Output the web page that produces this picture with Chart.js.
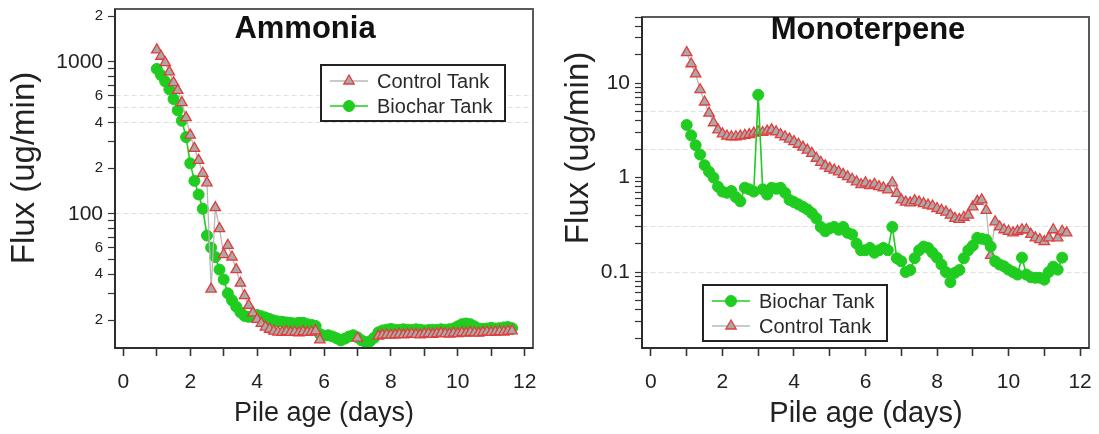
<!DOCTYPE html>
<html><head><meta charset="utf-8">
<script src="https://cdn.jsdelivr.net/npm/chart.js@4"></script>
<style>
html,body{margin:0;padding:0;background:#fff;}
#wrap{position:relative;width:1099px;height:434px;background:#fff;}
.box{position:absolute;top:0;height:434px;}
</style></head><body>
<div id="wrap">
<div class="box" style="left:0;width:560px"><canvas id="c1" width="560" height="434"></canvas></div>
<div class="box" style="left:560px;width:539px"><canvas id="c2" width="539" height="434"></canvas></div>
</div>
<script>
// ---------- DATA ----------
const days = [
 1, 1.125, 1.25, 1.375, 1.5, 1.625, 1.75, 1.875,
 2, 2.125, 2.25, 2.375, 2.5, 2.625, 2.75, 2.875,
 3, 3.125, 3.25, 3.375, 3.5, 3.625, 3.75, 3.875,
 4, 4.125, 4.25, 4.375, 4.5, 4.625, 4.75, 4.875,
 5, 5.125, 5.25, 5.375, 5.5, 5.625, 5.75, 5.875,
 6, 6.125, 6.25, 6.375, 6.5, 6.625, 6.75, 6.875,
 7, 7.125, 7.25, 7.375, 7.5, 7.625, 7.75, 7.875,
 8, 8.125, 8.25, 8.375, 8.5, 8.625, 8.75, 8.875,
 9, 9.125, 9.25, 9.375, 9.5, 9.625, 9.75, 9.875,
 10, 10.125, 10.25, 10.375, 10.5, 10.625, 10.75, 10.875,
 11, 11.125, 11.25, 11.375, 11.5, 11.625
];
const ammoniaControl = [
 1200, 1090, 990, 860, 730, 650, 540, 430,
 330, 270, 225, 185, 160, 32, 110, 80,
 54, 62, 52, 43, 35, 29, 25, 22.3,
 20.2, 19, 18, 17.4, 16.9, 16.7, 16.6, 16.8,
 16.6, 16.7, 16.5, 16.8, 16.6, 16.7, 17.0, 14.8,
 null, null, null, null, null, null, null, null,
 15.2, null, null, null, null, 15.7, 15.9, 16.0,
 15.9, 16.0, 16.1, 16.0, 16.1, 16.2, 16.1, 16.0,
 16.2, 16.3, 16.1, 16.3, 16.4, 16.3, 16.2, 16.4,
 16.3, 16.5, 16.4, 16.6, 16.5, 16.4, 16.6, 16.7,
 16.6, 16.7, 16.8, 16.7, 16.9, 17.0
];
const ammoniaBiochar = [
 900, 820, 745, 660, 570, 480, 410, 320,
 215, 165, 134, 108, 72, 60, 52, 43,
 37, 30, 27, 24.5, 22.5, 21.3, 21, 21.2,
 21.6, 21.2, 20.8, 20.3, 19.9, 19.6, 19.5, 19.3,
 19.2, 19, 19.2, 19.2, 18.8, 18.6, 18.3, 16.2,
 15.8, 15.9, 15.6, 15.2, 14.7, 15.1, 15.6, 15.9,
 15.4, 14.7, 14.3, 14.5, 15.3, 16.6, 17.1, 17.3,
 17.5, 17.3, 17.2, 17.4, 17.3, 17.2, 17.4, 17.3,
 17.1, 17.2, 17.3, 17.2, 17.4, 17.3, 17.4, 17.6,
 18.2, 18.8, 19.0, 18.8, 18.2, 17.6, 17.5, 17.6,
 17.8, 17.6, 17.7, 17.9, 18.0, 17.7
];
const monoControl = [
 21, 16, 12.5, 8.5, 6.3, 4.8, 3.8, 3.2,
 2.9, 2.75, 2.7, 2.7, 2.75, 2.8, 2.85, 2.95,
 3.05, 3.0, 3.1, 3.2, 3.05, 2.85, 2.7, 2.55,
 2.4, 2.25, 2.1, 1.95, 1.8, 1.6, 1.45, 1.33,
 1.25, 1.2, 1.15, 1.08, 1.02, 0.96, 0.9, 0.84,
 0.88, 0.82, 0.85, 0.8, 0.78, 0.74, 0.88, 0.68,
 0.58, 0.55, 0.54, 0.57, 0.55, 0.53, 0.51, 0.5,
 0.47, 0.45, 0.43, 0.4, 0.37, 0.36, 0.38, 0.4,
 0.49, 0.56, 0.58, 0.45, 0.15, 0.34, 0.3, 0.28,
 0.27, 0.26, 0.27, 0.28, 0.28, 0.25, 0.23, 0.22,
 0.21, 0.23, 0.28, 0.23, 0.27, 0.26
];
const monoBiochar = [
 3.6, 2.8, 2.2, 1.75, 1.35, 1.15, 1.0, 0.8,
 0.71, 0.69, 0.72, 0.62, 0.56, 0.78, 0.75, 0.71,
 7.5, 0.75, 0.66, 0.78, 0.76, 0.78, 0.69, 0.58,
 0.55, 0.52, 0.49, 0.46, 0.42, 0.37, 0.3, 0.27,
 0.29, 0.3, 0.28, 0.3, 0.26, 0.25, 0.2, 0.17,
 0.17, 0.18, 0.16, 0.17, 0.18, 0.17, 0.3, 0.14,
 0.13, 0.1, 0.105, 0.14, 0.17, 0.186, 0.18, 0.16,
 0.142, 0.12, 0.1, 0.078, 0.098, 0.105, 0.14, 0.17,
 0.19, 0.23, 0.225, 0.22, 0.186, 0.13, 0.12, 0.115,
 0.106, 0.1, 0.094, 0.142, 0.094, 0.088, 0.087, 0.087,
 0.083, 0.1, 0.114, 0.106, 0.142, null
];
const xTickValues = [0, 2, 4, 6, 8, 10, 12];
const xTickLabels = ['0', '2', '4', '6', '8', '10', '12'];
const xMinorTickValues = [0, 1, 2, 3, 4, 5, 6, 7, 8, 9, 10, 11, 12];
const ammoniaTickValues = [20, 40, 60, 100, 200, 400, 600, 1000, 2000];
const ammoniaTickLabels = ['2', '4', '6', '100', '2', '4', '6', '1000', '2'];
const monoTickValues = [0.1, 1, 10];
const monoTickLabels = ['0.1', '1', '10'];
const seriesNames = ['Control Tank', 'Biochar Tank'];
const chartTitles = ['Ammonia', 'Monoterpene'];
const xAxisTitle = 'Pile age (days)';
const yAxisTitle = 'Flux (ug/min)';

// ---------- STYLE / HELPERS ----------
const FONT = '"Liberation Sans", Arial, Helvetica, sans-serif';
Chart.defaults.font.family = FONT;
const GREEN = '#1fcc1f';

function toPoints(xs, ys) { return xs.map((x, i) => ({ x: x, y: ys[i] })); }
function matchIdx(v, vals) {
  for (let i = 0; i < vals.length; i++) { if (Math.abs(v / vals[i] - 1) < 1e-6) return i; }
  return -1;
}
function logTicks(min, max) {
  const out = [];
  for (let e = Math.floor(Math.log10(min)); e <= Math.ceil(Math.log10(max)); e++) {
    for (let k = 1; k <= 9; k++) {
      const v = parseFloat((k * Math.pow(10, e)).toPrecision(6));
      if (v >= min && v <= max) out.push({ value: v });
    }
  }
  return out;
}
function isDecade(v) { const l = Math.log10(v); return Math.abs(l - Math.round(l)) < 1e-9; }

function controlDataset(vals) {
  return {
    label: seriesNames[0], data: toPoints(days, vals), showLine: true, spanGaps: false,
    borderColor: '#b8b8b8', borderWidth: 1.3, tension: 0,
    pointStyle: 'triangle', pointRadius: 6, pointBackgroundColor: '#a9a9a9',
    pointBorderColor: '#e43c3c', pointBorderWidth: 1.3
  };
}
function biocharDataset(vals) {
  return {
    label: seriesNames[1], data: toPoints(days, vals), showLine: true, spanGaps: false,
    borderColor: GREEN, borderWidth: 1.6, tension: 0,
    pointStyle: 'circle', pointRadius: 5.5, pointBackgroundColor: GREEN,
    pointBorderColor: GREEN, pointBorderWidth: 1
  };
}

function drawMarker(ctx, ds, x, y) {
  const r = ds.pointRadius;
  ctx.beginPath();
  if (ds.pointStyle === 'triangle') {
    let rad = 0;
    ctx.moveTo(x + Math.sin(rad) * r, y - Math.cos(rad) * r);
    rad += 2 * Math.PI / 3; ctx.lineTo(x + Math.sin(rad) * r, y - Math.cos(rad) * r);
    rad += 2 * Math.PI / 3; ctx.lineTo(x + Math.sin(rad) * r, y - Math.cos(rad) * r);
    ctx.closePath();
  } else {
    ctx.arc(x, y, r, 0, Math.PI * 2);
  }
  ctx.fillStyle = ds.pointBackgroundColor; ctx.fill();
  ctx.lineWidth = ds.pointBorderWidth; ctx.strokeStyle = ds.pointBorderColor; ctx.stroke();
}

const overlayPlugin = {
  id: 'overlay',
  afterDraw(chart, args, o) {
    const ctx = chart.ctx, a = chart.chartArea;
    ctx.save();
    // plot frame
    ctx.strokeStyle = '#5a5a5a'; ctx.lineWidth = 2;
    ctx.strokeRect(a.left, a.top, a.right - a.left, a.bottom - a.top);
    ctx.strokeStyle = '#222'; ctx.lineWidth = 1.6;
    ctx.beginPath(); ctx.moveTo(a.left, a.top); ctx.lineTo(a.left, a.bottom); ctx.lineTo(a.right, a.bottom); ctx.stroke();
    // title
    ctx.fillStyle = '#111'; ctx.textAlign = 'center'; ctx.textBaseline = 'middle';
    ctx.font = 'bold 31px ' + FONT;
    ctx.fillText(o.title, o.titleX, o.titleY);
    // axis titles
    ctx.fillStyle = '#222';
    ctx.font = o.xSize + 'px ' + FONT;
    ctx.fillText(xAxisTitle, o.xTitleX, o.xTitleY);
    ctx.save();
    ctx.translate(o.yTitleX, o.yTitleY); ctx.rotate(-Math.PI / 2);
    ctx.font = o.ySize + 'px ' + FONT;
    ctx.fillText(yAxisTitle, 0, 0);
    ctx.restore();
    // legend
    const L = o.legend;
    ctx.fillStyle = '#fff';
    ctx.fillRect(L.x, L.y, L.w, L.h);
    ctx.strokeStyle = '#222'; ctx.lineWidth = 2;
    ctx.strokeRect(L.x, L.y, L.w, L.h);
    L.order.forEach((di, k) => {
      const ds = chart.data.datasets[di];
      const yy = L.y + L.rowTop + k * L.rowGap;
      ctx.strokeStyle = ds.borderColor; ctx.lineWidth = ds.borderWidth;
      ctx.beginPath(); ctx.moveTo(L.x + 9, yy); ctx.lineTo(L.x + 47, yy); ctx.stroke();
      drawMarker(ctx, ds, L.x + 28, yy);
      ctx.fillStyle = '#2a2a2a'; ctx.textAlign = 'left'; ctx.textBaseline = 'middle';
      ctx.font = '20px ' + FONT;
      ctx.fillText(ds.label, L.x + 56, yy + 1);
    });
    ctx.restore();
  }
};

function makeChart(id, c) {
  return new Chart(document.getElementById(id), {
    type: 'line',
    data: { datasets: c.datasets },
    plugins: [overlayPlugin],
    options: {
      responsive: false, animation: false, devicePixelRatio: 1,
      layout: { padding: { top: c.padTop, right: c.padRight, left: 0, bottom: 0 } },
      plugins: { legend: { display: false }, tooltip: { enabled: false }, title: { display: false }, overlay: c.overlay },
      scales: {
        x: {
          type: 'linear', min: -0.25, max: 12.25,
          afterBuildTicks: s => { s.ticks = xMinorTickValues.map(v => ({ value: v })); },
          afterFit: s => { s.height = 86; s.paddingLeft = 0; s.paddingRight = 0; },
          ticks: {
            autoSkip: false, maxRotation: 0, minRotation: 0, padding: 14, color: '#222',
            font: { size: 21, family: FONT },
            callback: v => { const i = xTickValues.indexOf(v); return i >= 0 ? xTickLabels[i] : ''; }
          },
          grid: { drawOnChartArea: false, drawTicks: true, tickLength: 8, tickColor: '#333', tickWidth: 1.6 },
          border: { display: true, color: '#222', width: 1.6 }
        },
        y: {
          type: 'logarithmic', min: c.yMin, max: c.yMax,
          afterBuildTicks: s => { s.ticks = logTicks(c.yMin, c.yMax); },
          afterFit: s => { s.width = c.yWidth; s.paddingTop = 0; s.paddingBottom = 0; },
          ticks: {
            autoSkip: false, padding: 5, color: '#222',
            font: ctx => ({ size: (ctx.tick && isDecade(ctx.tick.value)) ? 21 : 15, family: FONT }),
            callback: v => { const i = matchIdx(v, c.tickVals); return i >= 0 ? c.tickLabels[i] : ''; }
          },
          grid: {
            drawOnChartArea: true,
            color: ctx => (ctx.tick && matchIdx(ctx.tick.value, c.gridVals) >= 0) ? 'rgba(0,0,0,0.12)' : 'rgba(0,0,0,0)',
            tickColor: '#333', tickLength: 7, tickWidth: 1.2, lineWidth: 1
          },
          border: { display: true, color: '#222', width: 1.6, dash: [5, 3] }
        }
      }
    }
  });
}

makeChart('c1', {
  datasets: [controlDataset(ammoniaControl), biocharDataset(ammoniaBiochar)],
  padTop: 9, padRight: 27, yWidth: 115,
  yMin: 13.1, yMax: 2230,
  tickVals: ammoniaTickValues, tickLabels: ammoniaTickLabels,
  gridVals: [600, 500, 400, 100],
  overlay: {
    title: chartTitles[0], titleX: 305, titleY: 29,
    xTitleX: 324, xTitleY: 414, xSize: 27,
    yTitleX: 25, yTitleY: 168, ySize: 33,
    legend: { x: 321, y: 65, w: 184, h: 56, rowTop: 16, rowGap: 25, order: [0, 1] }
  }
});

makeChart('c2', {
  datasets: [biocharDataset(monoBiochar), controlDataset(monoControl)],
  padTop: 17, padRight: 10, yWidth: 82,
  yMin: 0.0157, yMax: 50,
  tickVals: monoTickValues, tickLabels: monoTickLabels,
  gridVals: [5, 2, 0.3, 0.1],
  overlay: {
    title: chartTitles[1], titleX: 308, titleY: 30,
    xTitleX: 306, xTitleY: 414, xSize: 29,
    yTitleX: 19, yTitleY: 148, ySize: 33,
    legend: { x: 143, y: 285, w: 184, h: 56, rowTop: 16, rowGap: 25, order: [0, 1] }
  }
});
</script>
</body></html>
